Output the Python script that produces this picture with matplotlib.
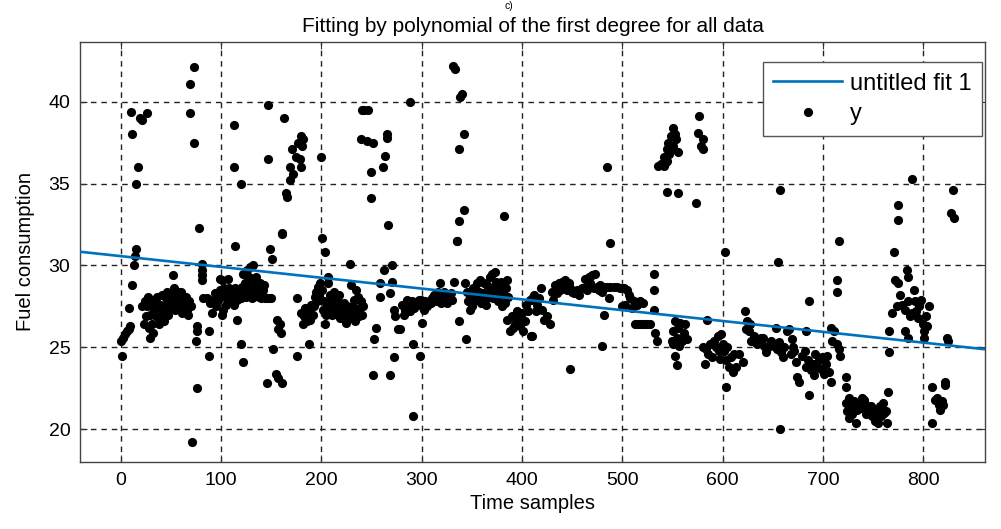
import numpy as np
import matplotlib
matplotlib.use('Agg')
import matplotlib.pyplot as plt

plt.rcParams['font.family'] = ['Liberation Sans', 'DejaVu Sans']

# fit line: y = a*x + b
fit_slope = -0.0066
fit_intercept = 30.57

# (time sample, fuel consumption), grouped by stretch of time
pts_0_90 = [(0, 25.4), (1, 24.5), (2, 25.6), (4, 25.8), (6, 26.0), (8, 26.1), (9, 26.3), (8, 27.4),
            (11, 28.8), (13, 30.0), (14, 30.6), (15, 31.0),
            (10, 39.4), (11, 38.0), (15, 35.0), (17, 36.0), (19, 39.0), (21, 38.9), (26, 39.3),
            (21, 27.5), (23, 26.4), (24, 27.8), (26, 27.5), (29, 27.0), (29, 25.6), (31, 26.4),
            (33, 27.3), (34, 27.9), (36, 28.1), (38, 26.8), (38, 26.4), (39, 27.6), (41, 28.2),
            (41, 27.3), (43, 26.6), (44, 27.6), (46, 28.4), (46, 27.2), (48, 27.8), (49, 28.1),
            (51, 27.5), (52, 27.9), (52, 29.4), (54, 27.3), (56, 28.3), (57, 28.4), (59, 27.6),
            (61, 27.1), (62, 27.5), (64, 27.8), (66, 27.3), (67, 27.0), (68, 27.8),
            (25, 26.9), (27, 28.1), (35, 26.9), (37, 27.6), (40, 26.9), (45, 28.0), (47, 27.0),
            (50, 28.3), (53, 28.6), (55, 27.8), (58, 28.0), (60, 28.4), (63, 27.2), (65, 28.1),
            (70, 27.5), (30, 27.6), (32, 25.9), (28, 26.2),
            (69, 41.1), (73, 42.1), (69, 39.3), (73, 37.5), (78, 32.3),
            (71, 19.2), (76, 22.5), (76, 26.3), (76, 26.0), (75, 25.4),
            (81, 30.1), (81, 29.7), (81, 29.4), (81, 29.1), (82, 28.0),
            (88, 26.0), (88, 24.5)]

pts_90_250 = [(86, 28.0), (89, 27.7), (91, 27.1), (94, 28.3), (97, 27.9), (99, 28.5), (99, 29.2),
              (101, 29.1), (101, 27.0), (102, 27.3), (104, 28.1), (106, 28.4), (107, 29.2), (109, 28.1),
              (111, 28.5), (114, 28.6), (117, 28.1), (121, 28.7), (122, 29.5), (126, 29.7), (126, 28.9),
              (127, 28.5), (129, 29.9), (131, 28.0), (132, 30.0), (135, 29.3), (136, 28.4), (139, 28.9),
              (140, 28.0), (142, 28.5), (144, 28.0), (147, 28.0), (150, 28.0),
              (92, 27.9), (95, 27.5), (98, 28.0), (103, 28.6), (105, 27.6), (108, 28.6), (110, 27.8),
              (112, 28.2), (113, 27.6), (115, 28.3), (116, 27.9), (118, 28.5), (119, 28.2), (120, 28.0),
              (123, 28.3), (124, 28.9), (125, 28.1), (128, 29.3), (130, 28.5), (133, 29.0), (134, 28.2),
              (137, 28.7), (138, 28.1), (141, 28.3), (143, 28.8),
              (114, 31.2), (116, 26.7), (120, 25.2), (122, 24.1), (113, 38.6), (113, 36.0), (120, 35.0),
              (147, 39.8), (147, 36.5), (149, 31.0), (151, 30.4), (163, 39.0),
              (152, 24.9), (146, 22.8), (155, 23.4), (157, 23.1), (161, 22.8),
              (156, 26.7), (157, 26.1), (159, 26.4), (160, 25.9), (161, 31.9), (161, 32.0),
              (165, 34.4), (166, 34.2), (169, 35.2), (172, 35.6), (169, 36.0), (180, 36.0), (175, 36.6),
              (171, 37.1), (177, 37.5), (180, 37.9), (182, 37.7), (181, 37.3), (179, 36.5),
              (176, 28.0), (176, 24.5), (188, 25.2), (180, 27.1), (182, 26.4), (184, 27.4), (187, 27.3),
              (189, 26.7), (192, 27.0), (194, 28.1), (195, 28.4), (197, 28.7), (199, 28.9), (200, 27.9),
              (202, 27.3), (204, 26.4), (205, 27.0), (207, 29.3), (207, 28.9), (209, 28.2), (212, 27.9),
              (212, 27.2), (215, 27.5), (219, 26.8), (219, 27.6), (222, 27.0), (225, 26.5), (227, 27.0),
              (229, 30.1), (230, 28.8), (232, 27.5), (234, 26.6), (235, 28.5), (237, 28.1), (239, 27.4),
              (242, 27.5),
              (183, 26.9), (186, 26.6), (190, 27.6), (193, 27.5), (196, 27.8), (198, 28.2), (201, 28.5),
              (203, 27.8), (206, 27.6), (208, 27.4), (210, 28.0), (211, 27.0), (213, 28.4), (214, 27.3),
              (216, 27.9), (217, 27.0), (218, 28.2), (220, 27.3), (221, 26.9), (223, 27.7), (224, 27.2),
              (226, 27.5), (228, 26.8), (231, 27.2), (233, 27.9), (236, 27.0), (238, 26.9), (240, 27.8),
              (241, 27.0),
              (201, 31.7), (204, 30.8), (200, 36.6), (243, 39.5), (246, 39.5), (241, 39.5), (240, 37.7),
              (245, 37.6), (251, 37.5), (249, 35.7), (249, 34.1)]

pts_250_410 = [(261, 36.0), (263, 36.7), (265, 38.0), (265, 37.8), (266, 32.5), (288, 40.0),
               (254, 26.2), (252, 25.5), (251, 23.3), (258, 28.9), (258, 28.1), (262, 29.7), (270, 30.0),
               (270, 29.0), (268, 28.3), (268, 23.3), (272, 24.4), (272, 27.3), (273, 26.9), (276, 26.1),
               (278, 26.1), (291, 25.2), (298, 24.5), (291, 20.8),
               (280, 27.6), (283, 27.3), (287, 27.6), (290, 27.8), (293, 27.7), (297, 27.9), (300, 27.5),
               (300, 26.5), (303, 27.8), (307, 27.7), (310, 28.0), (313, 27.9), (317, 28.2), (320, 28.1),
               (323, 28.0), (327, 28.2), (330, 27.9), (318, 28.9), (332, 29.0), (335, 31.5), (337, 26.6),
               (344, 25.5),
               (282, 27.0), (285, 27.9), (288, 27.2), (292, 27.4), (295, 27.6), (299, 27.9), (302, 27.3),
               (305, 27.5), (309, 27.7), (312, 28.2), (315, 27.8), (316, 28.4), (319, 27.7), (322, 28.4),
               (325, 27.7), (329, 28.3),
               (331, 42.2), (333, 42.0), (340, 40.5), (338, 40.3), (342, 38.0), (337, 37.1), (342, 33.4),
               (337, 32.7), (335, 31.5), (382, 33.0),
               (343, 28.9), (345, 28.4), (348, 28.1), (348, 27.3), (351, 28.6), (355, 28.9), (358, 29.1),
               (361, 28.3), (365, 28.8), (368, 29.3), (370, 29.5), (373, 29.6), (375, 28.8), (376, 27.8),
               (378, 28.5), (380, 27.5), (381, 28.9), (385, 29.1), (386, 28.1), (353, 27.9), (360, 28.3),
               (367, 28.1), (372, 28.3),
               (346, 27.8), (350, 27.5), (352, 28.3), (354, 28.5), (356, 27.9), (357, 28.4), (359, 27.7),
               (362, 28.9), (363, 28.0), (364, 27.6), (366, 28.5), (369, 28.6), (371, 28.0), (374, 29.0),
               (377, 28.3), (379, 29.0), (382, 28.2), (383, 27.7), (384, 28.6),
               (385, 26.7), (388, 26.0), (390, 26.9), (393, 26.4), (396, 26.7), (398, 26.3), (400, 27.1),
               (403, 26.6), (406, 27.2), (408, 27.9), (409, 25.7), (411, 28.1), (391, 26.2), (395, 27.2),
               (401, 26.0), (404, 27.6)]

pts_410_620 = [(409, 27.9), (412, 28.2), (415, 27.6), (419, 28.6), (420, 27.3), (422, 26.7), (425, 26.9),
               (428, 26.4), (410, 25.7), (414, 27.2), (417, 28.0),
               (430, 28.4), (433, 28.8), (437, 28.9), (440, 29.0), (443, 29.1), (445, 28.5), (448, 28.6),
               (452, 28.3), (455, 28.5), (460, 28.6), (463, 29.2), (467, 29.3), (470, 29.4), (473, 29.5),
               (475, 28.7), (478, 28.8), (482, 28.7), (485, 28.7), (488, 28.7), (492, 28.7), (495, 28.7),
               (498, 28.6), (502, 28.6), (505, 28.5), (507, 28.2), (508, 28.0), (512, 27.8), (515, 27.6),
               (518, 27.8), (521, 27.7), (503, 27.6), (500, 27.5), (510, 27.4),
               (431, 27.9), (435, 28.3), (438, 28.5), (442, 28.6), (447, 28.9), (450, 28.4), (457, 28.2),
               (462, 28.6), (465, 28.5), (468, 28.9), (472, 28.6), (477, 28.5), (480, 28.4),
               (487, 28.0), (482, 27.0), (480, 25.1), (448, 23.7), (488, 31.4), (485, 36.0),
               (513, 26.4), (516, 26.4), (519, 26.4), (522, 26.4), (525, 26.4), (528, 26.4),
               (532, 27.3), (532, 28.5), (532, 29.5), (533, 25.9), (535, 25.4),
               (553, 26.6), (558, 26.5), (563, 26.4), (551, 26.0), (555, 25.6), (560, 25.4), (565, 25.5),
               (551, 25.2), (553, 24.5), (555, 23.9), (550, 25.4), (556, 26.2), (562, 25.9), (557, 25.1),
               (585, 26.7),
               (581, 25.0), (583, 24.0), (586, 24.6), (588, 25.2), (591, 25.4), (595, 25.7), (598, 25.8),
               (600, 25.2), (601, 24.8), (603, 24.2), (606, 23.8), (608, 24.4), (610, 23.5), (613, 23.8),
               (616, 24.6), (620, 24.1), (590, 24.4), (596, 24.8), (593, 25.0), (597, 24.3), (604, 25.0),
               (611, 24.6), (584, 24.9), (603, 22.6), (602, 30.8),
               (551, 38.4), (549, 37.9), (554, 37.7), (546, 37.5), (551, 37.3), (545, 37.1), (556, 36.9),
               (547, 36.8), (542, 36.6), (545, 36.4), (539, 36.2), (536, 36.1), (542, 36.1), (553, 38.0),
               (548, 37.0), (544, 36.3),
               (577, 39.1), (576, 38.1), (581, 37.7), (579, 37.3), (581, 37.1), (545, 34.5), (556, 34.4),
               (574, 33.8)]

pts_620_830 = [(622, 27.2), (624, 26.6), (623, 26.1), (626, 26.0), (628, 25.4), (631, 25.7), (634, 25.2),
               (638, 25.6), (641, 25.1), (643, 24.7), (627, 26.4), (632, 25.3), (636, 25.4), (640, 25.6),
               (645, 25.0), (653, 26.2), (655, 30.2), (657, 34.6),
               (648, 25.4), (651, 25.1), (654, 24.9), (658, 24.7), (661, 25.0), (664, 26.0), (666, 26.1),
               (669, 25.5), (671, 24.8), (673, 24.1), (674, 23.2), (676, 22.9), (656, 25.3), (660, 24.4),
               (668, 24.6), (670, 25.0), (657, 20.0),
               (679, 24.5), (682, 24.8), (683, 26.0), (686, 27.8), (683, 23.8), (688, 23.6), (691, 23.3),
               (694, 23.8), (696, 24.2), (699, 24.4), (703, 24.0), (706, 23.5), (708, 22.9), (686, 22.1),
               (685, 24.2), (690, 24.0), (692, 24.6), (698, 23.7), (701, 23.4), (704, 24.5),
               (708, 26.2), (711, 26.0), (709, 25.4), (714, 25.2), (716, 24.9), (717, 24.5), (716, 31.5),
               (714, 29.1), (714, 28.4), (723, 23.2), (723, 22.6),
               (723, 21.6), (724, 21.1), (726, 20.7), (728, 21.4), (731, 21.7), (734, 21.2), (736, 21.6),
               (739, 21.9), (743, 21.5), (746, 21.1), (749, 20.8), (752, 20.5), (754, 21.1), (757, 21.4),
               (760, 21.6), (763, 21.1), (764, 20.4), (765, 22.3), (733, 20.4), (743, 20.9), (758, 20.8),
               (755, 20.4), (729, 20.9), (738, 21.3), (741, 21.8), (748, 21.4), (761, 21.0), (726, 21.9),
               (766, 26.0), (766, 24.7), (769, 27.1), (771, 30.8), (772, 29.1), (775, 28.9), (779, 27.6),
               (782, 26.0), (784, 29.7), (785, 29.3), (785, 27.8), (787, 26.9), (789, 27.1), (791, 28.5),
               (792, 27.8), (793, 27.2), (796, 27.5), (800, 26.4), (801, 26.0), (803, 26.9), (806, 27.5),
               (801, 25.6), (782, 27.3), (774, 27.5), (785, 25.6), (777, 28.2), (795, 26.8), (798, 27.9),
               (804, 26.3),
               (775, 33.7), (775, 32.8), (789, 35.3), (830, 34.6), (828, 33.2), (831, 32.9),
               (809, 22.6), (809, 20.4), (812, 21.8), (816, 21.5), (819, 21.7), (822, 22.7), (822, 22.9),
               (820, 21.5), (814, 21.9), (817, 21.2), (825, 25.4), (824, 25.6)]

x_ticks = [0, 100, 200, 300, 400, 500, 600, 700, 800]
y_ticks = [20, 25, 30, 35, 40]
x_range = (-40.6, 861.7)
y_range = (18.0, 43.65)

all_pts = pts_0_90 + pts_90_250 + pts_250_410 + pts_410_620 + pts_620_830
samples = np.array([p[0] for p in all_pts])
fuel = np.array([p[1] for p in all_pts])

fig = plt.figure(figsize=(10.01, 5.29), dpi=100)
ax = fig.add_axes([0.080, 0.1267, 0.904, 0.7940])

xl = np.array(x_range)
ax.plot(xl, fit_slope * xl + fit_intercept, color='#0072BD', lw=1.9, label='untitled fit 1', zorder=3)
ax.plot(samples, fuel, 'o', color='black', ms=6.6, mew=0, label='y', zorder=2)

ax.set_xlim(*x_range)
ax.set_ylim(*y_range)
ax.set_xticks(x_ticks)
ax.set_yticks(y_ticks)
ax.tick_params(direction='in', top=True, right=True, length=5, labelsize=14, pad=7, color='#333333')
ax.grid(True, color='#222222', linestyle=(0, (4, 3.5)), linewidth=1.0)
for s in ax.spines.values():
    s.set_color('#444444')
    s.set_linewidth(1.0)

ax.set_title('Fitting by polynomial of the first degree for all data', fontsize=15, pad=7)
ax.set_xlabel('Time samples', fontsize=14.5, labelpad=4)
ax.set_ylabel('Fuel consumption', fontsize=14.5, labelpad=10)
fig.text(0.508, 0.999, 'c)', fontsize=7.5, ha='center', va='top')

leg = ax.legend(loc='upper right', bbox_to_anchor=(0.997, 0.952), fontsize=17, fancybox=False,
                framealpha=1, edgecolor='#555555', handlelength=2.9, handletextpad=0.35,
                borderpad=0.45, labelspacing=0.35, borderaxespad=0)
leg.get_frame().set_linewidth(1.0)

fig.savefig('out.png', dpi=100)
